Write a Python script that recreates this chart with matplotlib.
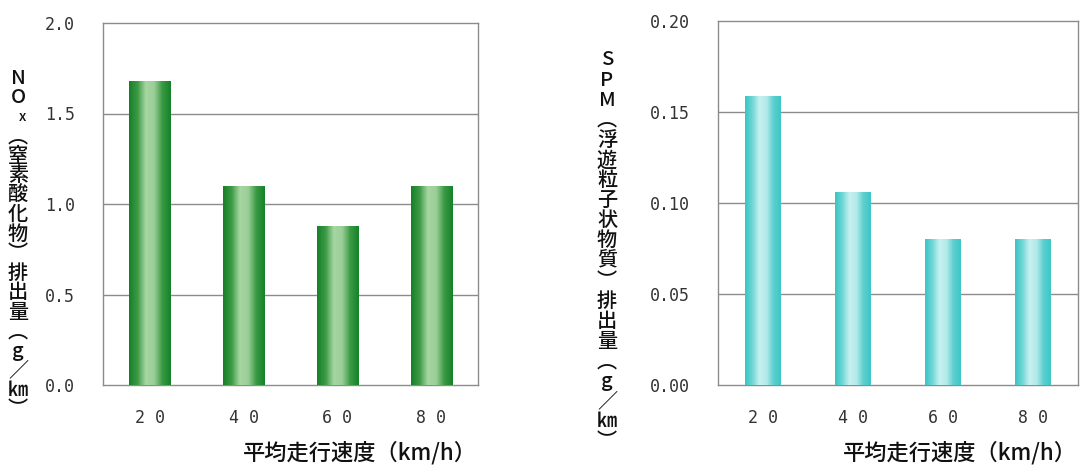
import matplotlib
matplotlib.use('Agg')
import matplotlib.pyplot as plt
import numpy as np
from matplotlib.colors import LinearSegmentedColormap

plt.rcParams['font.family'] = ['Noto Sans CJK JP', 'DejaVu Sans']

speeds = ['20', '40', '60', '80']
nox = [1.68, 1.10, 0.88, 1.10]
spm = [0.159, 0.106, 0.080, 0.080]

nox_ticks = [0.0, 0.5, 1.0, 1.5, 2.0]
spm_ticks = [0.00, 0.05, 0.10, 0.15, 0.20]

nox_label = ['N', 'O', 'x', '︵', '窒', '素', '酸', '化', '物', '︶',
             '排', '出', '量', '︵', 'g', '／', '㎞', '︶']
spm_label = ['S', 'P', 'M', '︵', '浮', '遊', '粒', '子', '状', '物', '質', '︶',
             '排', '出', '量', '︵', 'g', '／', '㎞', '︶']
xlabel = '平均走行速度（km/h）'

GREEN = LinearSegmentedColormap.from_list(
    'g', ['#17802a', '#3d9a45', '#a6d6a2', '#9ccf98', '#3a9a44', '#15822a'])
CYAN = LinearSegmentedColormap.from_list(
    'c', ['#3cc4c4', '#6fd6d6', '#c6f0f0', '#b4eaea', '#5ccfcf', '#3ec6c6'])

W, H = 1082, 466
fig = plt.figure(figsize=(W / 100, H / 100), dpi=100)
fig.patch.set_facecolor('white')


def gradient_bars(ax, values, width, cmap):
    x = np.arange(len(values))
    bars = ax.bar(x, values, width, color='none', edgecolor='none', zorder=3)
    grad = np.linspace(0, 1, 64).reshape(1, -1)
    for b in bars:
        x0, y0 = b.get_x(), b.get_y()
        im = ax.imshow(grad, cmap=cmap, aspect='auto', zorder=3,
                       extent=[x0, x0 + b.get_width(), y0, y0 + b.get_height()])
        im.set_clip_path(b)
    return bars


def setup(ax, ticks, fmt):
    ax.set_xlim(-0.5, 3.5)
    ax.set_ylim(ticks[0], ticks[-1])
    ax.set_yticks(ticks)
    ax.set_yticklabels([fmt.format(t) for t in ticks], fontsize=12,
                       color='#333333', family='DejaVu Sans Mono')
    ax.set_xticks(range(len(speeds)))
    ax.set_xticklabels([' '.join(s) for s in speeds], fontsize=12,
                       color='#333333', family='DejaVu Sans Mono')
    ax.tick_params(axis='y', length=0, pad=20)
    ax.tick_params(axis='x', length=0, pad=17)
    for t in ticks[1:-1]:
        ax.axhline(t, color='#8c8c8c', lw=1.0, zorder=1)
    for s in ax.spines.values():
        s.set_color('#8c8c8c')
        s.set_linewidth(1.0)


def vlabel(chars, x, y_top, y_bot):
    ys = np.linspace(y_top, y_bot, len(chars))
    for ch, y in zip(chars, ys):
        size = 10 if ch == 'x' else 14.5
        dx = 0.004 if ch == 'x' else 0
        fig.text(x + dx, y, ch, ha='center', va='center', fontsize=size,
                 color='#111111', fontweight='medium')


# NOx panel
ax1 = fig.add_axes([103 / W, 1 - 385 / H, 375 / W, 362 / H])
gradient_bars(ax1, nox, 0.44, GREEN)
setup(ax1, nox_ticks, '{:.1f}')
fig.text(477 / W, 1 - 453 / H, xlabel, ha='right', va='center',
         fontsize=16, color='#111111', fontweight='medium')

# SPM panel
ax2 = fig.add_axes([718 / W, 1 - 385 / H, 360 / W, 364 / H])
gradient_bars(ax2, spm, 0.40, CYAN)
setup(ax2, spm_ticks, '{:.2f}')
fig.text(1077 / W, 1 - 453 / H, xlabel, ha='right', va='center',
         fontsize=16, color='#111111', fontweight='medium')

vlabel(nox_label, 18 / W, 1 - 78 / H, 1 - 410 / H)
vlabel(spm_label, 607 / W, 1 - 60 / H, 1 - 442 / H)

fig.savefig('out.png', dpi=100, facecolor='white')
